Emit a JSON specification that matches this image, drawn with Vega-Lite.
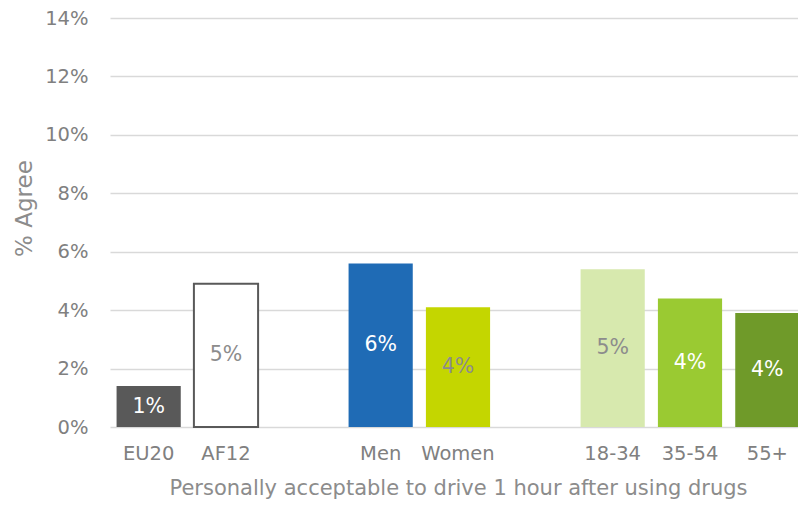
{
  "$schema": "https://vega.github.io/schema/vega-lite/v6.json",
  "autosize": {"type": "none"},
  "width": 688,
  "height": 409,
  "padding": {"left": 110, "top": 18, "right": 0, "bottom": 79},
  "background": "white",
  "config": {
    "view": {"stroke": null},
    "font": "DejaVu Sans",
    "axis": {"labelFont": "DejaVu Sans", "titleFont": "DejaVu Sans", "labelColor": "#808080", "titleColor": "#8c8c8c", "titleFontWeight": "normal"}
  },
  "data": {
    "values": [
      {"cat": "EU20", "value": 0.014},
      {"cat": "AF12", "value": 0.049},
      {"cat": "Men", "value": 0.056},
      {"cat": "Women", "value": 0.041},
      {"cat": "18-34", "value": 0.054},
      {"cat": "35-54", "value": 0.044},
      {"cat": "55+", "value": 0.039}
    ]
  },
  "transform": [{"calculate": "datum.value / 2", "as": "mid"}],
  "encoding": {
    "x": {
      "field": "cat",
      "type": "nominal",
      "sort": null,
      "scale": {
        "domain": ["EU20", "AF12", " ", "Men", "Women", "  ", "18-34", "35-54", "55+"],
        "range": [0, 696],
        "paddingInner": 0.17,
        "paddingOuter": 0.085
      },
      "axis": {
        "title": "Personally acceptable to drive 1 hour after using drugs",
        "labelAngle": 0,
        "labelFontSize": 19.5,
        "titleFontSize": 21,
        "ticks": false,
        "domain": false,
        "labelPadding": 17,
        "titlePadding": 15
      }
    }
  },
  "layer": [
    {
      "mark": {"type": "bar", "strokeWidth": 2},
      "encoding": {
        "y": {
          "field": "value",
          "type": "quantitative",
          "scale": {"domain": [0, 0.14], "nice": false},
          "axis": {
            "title": "% Agree",
            "format": ".0%",
            "values": [0, 0.02, 0.04, 0.06, 0.08, 0.1, 0.12, 0.14],
            "labelFontSize": 19.5,
            "titleFontSize": 23,
            "ticks": false,
            "domain": false,
            "labelPadding": 22,
            "gridColor": "#d9d9d9",
            "gridWidth": 1.5,
            "titleX": -74,
            "titleY": 190
          }
        },
        "color": {
          "field": "cat",
          "type": "nominal",
          "legend": null,
          "scale": {
            "domain": ["EU20", "AF12", "Men", "Women", "18-34", "35-54", "55+"],
            "range": ["#595959", "#ffffff", "#1f6bb5", "#c4d600", "#d7e9ae", "#9aca32", "#6f9a29"]
          }
        },
        "stroke": {
          "condition": {"test": "datum.cat === 'AF12'", "value": "#595959"},
          "value": null
        }
      }
    },
    {
      "mark": {"type": "text", "fontSize": 20.5, "baseline": "middle", "align": "center"},
      "encoding": {
        "y": {"field": "mid", "type": "quantitative"},
        "text": {"field": "value", "type": "quantitative", "format": ".0%"},
        "color": {
          "condition": {"test": "indexof(['AF12','Women','18-34'], datum.cat) >= 0", "value": "#8c8c8c"},
          "value": "#ffffff"
        }
      }
    }
  ]
}
